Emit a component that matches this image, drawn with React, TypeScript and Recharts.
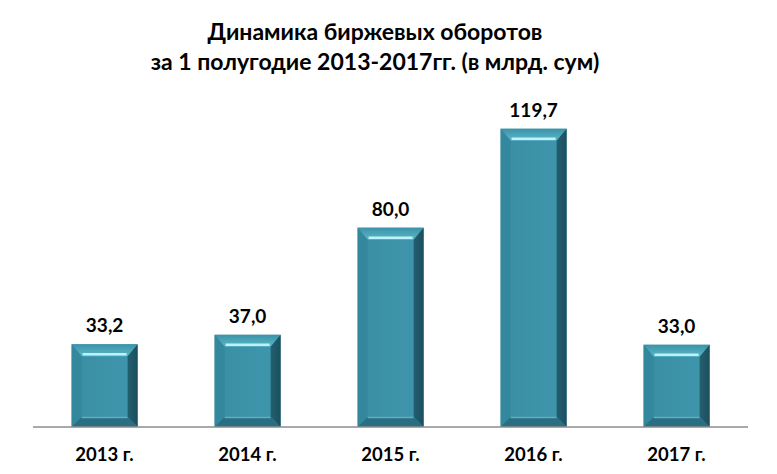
import { BarChart, Bar, XAxis, YAxis, LabelList } from 'recharts';

const years = ['2013 г.', '2014 г.', '2015 г.', '2016 г.', '2017 г.'];
const turnover = [33.2, 37.0, 80.0, 119.7, 33.0];
const titleLines = ['Динамика биржевых оборотов', 'за 1 полугодие 2013-2017гг. (в млрд. сум)'];

const data = years.map((year, i) => ({ year, value: turnover[i] }));

const FONT = 'Lato, "Open Sans", sans-serif';

// bar with a bevelled frame, like the office "bevel" bar effect
const BevelBar = (props: any) => {
  const { x, y, width, height } = props;
  if (!height || height <= 0) return null;
  const b = 10;
  const r = x + width;
  const bt = y + height;
  return (
    <g>
      <rect x={x} y={y} width={width} height={height} fill="url(#face)" />
      {/* top */}
      <polygon points={`${x},${y} ${r},${y} ${r - b},${y + b + 2} ${x + b},${y + b + 2}`} fill="url(#topBevel)" />
      <line x1={x + b + 1} y1={y + b} x2={r - b - 1} y2={y + b} stroke="#bdf2fa" strokeWidth={2.5} />
      {/* left */}
      <polygon points={`${x},${y} ${x + b},${y + b + 2} ${x + b},${bt - b} ${x},${bt}`} fill="#33889d" />
      {/* right */}
      <polygon points={`${r},${y} ${r - b},${y + b + 2} ${r - b},${bt - b} ${r},${bt}`} fill="url(#rightBevel)" />
      {/* bottom */}
      <polygon points={`${x},${bt} ${x + b},${bt - b} ${r - b},${bt - b} ${r},${bt}`} fill="#2a6e82" />
      <line x1={x + b} y1={bt - b + 0.5} x2={r - b} y2={bt - b + 0.5} stroke="#62adbe" strokeWidth={1.5} />
    </g>
  );
};

const YearTick = (props: any) => {
  const { x, y, payload } = props;
  return (
    <text x={x} y={y + 26} textAnchor="middle" fontFamily={FONT} fontWeight="bold" fontSize={18.5} fill="#000">
      {payload.value}
    </text>
  );
};

const ValueLabel = (props: any) => {
  const { x, y, width, value } = props;
  return (
    <text x={x + width / 2} y={y - 12} textAnchor="middle" fontFamily={FONT} fontWeight="bold" fontSize={19} fill="#000">
      {Number(value).toFixed(1).replace('.', ',')}
    </text>
  );
};

export default function App() {
  return (
    <div style={{ position: 'relative', width: 777, height: 474, background: '#fff' }}>
      <style>{`body{margin:0}`}</style>
      <div
        style={{
          position: 'absolute',
          left: 0,
          top: 16,
          width: 750,
          textAlign: 'center',
          fontFamily: FONT,
          fontWeight: 'bold',
          fontSize: 23,
          lineHeight: '30px',
          color: '#000',
        }}
      >
        {titleLines.map((t) => (
          <div key={t}>{t}</div>
        ))}
      </div>
      <div style={{ position: 'absolute', left: 0, top: 0 }}>
        <BarChart
          width={777}
          height={474}
          data={data}
          margin={{ top: 128, right: 29, bottom: 17, left: 33 }}
          barCategoryGap="27%"
        >
          <defs>
            <linearGradient id="face" x1="0" y1="0" x2="1" y2="0">
              <stop offset="0" stopColor="#3a8ea4" />
              <stop offset="1" stopColor="#3f96ac" />
            </linearGradient>
            <linearGradient id="topBevel" x1="0" y1="0" x2="0" y2="1">
              <stop offset="0" stopColor="#3a93a8" />
              <stop offset="1" stopColor="#5cb6c8" />
            </linearGradient>
            <linearGradient id="rightBevel" x1="0" y1="0" x2="1" y2="0">
              <stop offset="0" stopColor="#235f70" />
              <stop offset="1" stopColor="#1b4f5e" />
            </linearGradient>
          </defs>
          <XAxis
            dataKey="year"
            axisLine={{ stroke: '#8c8c8c', strokeWidth: 1.5 }}
            tickLine={false}
            tick={<YearTick />}
            height={30}
            interval={0}
          />
          <YAxis hide domain={[0, 120]} />
          <Bar dataKey="value" shape={<BevelBar />} isAnimationActive={false}>
            <LabelList dataKey="value" content={<ValueLabel />} />
          </Bar>
        </BarChart>
      </div>
    </div>
  );
}
